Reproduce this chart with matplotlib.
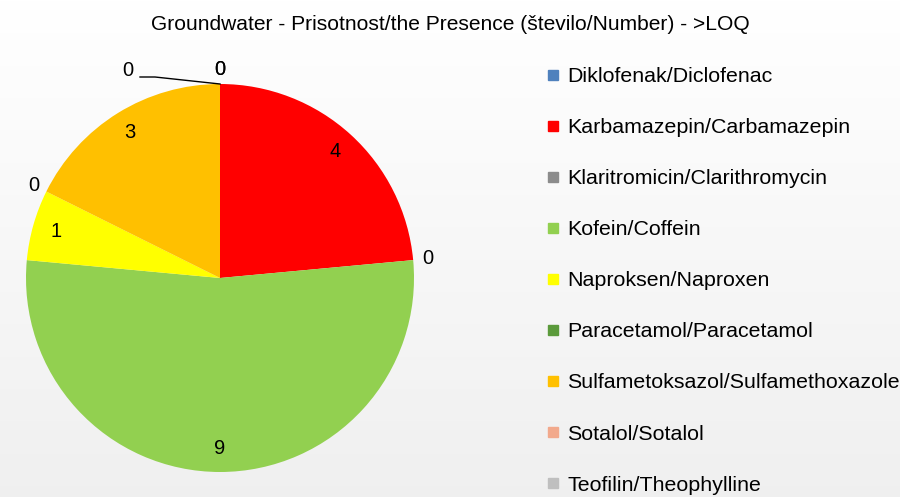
import numpy as np
import matplotlib
matplotlib.use("Agg")
import matplotlib.pyplot as plt
from matplotlib.lines import Line2D

plt.rcParams['font.family'] = ['Liberation Sans', 'DejaVu Sans']

title = "Groundwater - Prisotnost/the Presence (število/Number) - >LOQ"
names = ["Diklofenak/Diclofenac", "Karbamazepin/Carbamazepin",
         "Klaritromicin/Clarithromycin", "Kofein/Coffein",
         "Naproksen/Naproxen", "Paracetamol/Paracetamol",
         "Sulfametoksazol/Sulfamethoxazole", "Sotalol/Sotalol",
         "Teofilin/Theophylline"]
counts = [0, 4, 0, 9, 1, 0, 3, 0, 0]
colors = ["#4F81BD", "#FF0000", "#8C8C8C", "#92D050", "#FFFF00",
          "#5B9A3B", "#FFC000", "#F2A98C", "#BFBFBF"]

W, H = 900, 497
fig = plt.figure(figsize=(W / 100, H / 100), dpi=100)

# soft white -> grey background
bg = fig.add_axes([0, 0, 1, 1], zorder=-10)
grad = np.linspace(1.0, 0.94, 256).reshape(-1, 1)
bg.imshow(np.dstack([grad, grad, grad]), aspect='auto', extent=[0, 1, 0, 1])
bg.axis('off')

# pixel-unit axes so the pie sits where it does in the original
ax = fig.add_axes([0, 0, 1, 1])
ax.patch.set_alpha(0)

cx, cy, r = 220, H - 278, 194
wedges, _ = ax.pie(counts, colors=colors, startangle=90, counterclock=False,
                   center=(cx, cy), radius=r, frame=True)
ax.set_xlim(0, W)
ax.set_ylim(0, H)
ax.axis('off')

for i, (w, v) in enumerate(zip(wedges, counts)):
    mid = np.deg2rad((w.theta1 + w.theta2) / 2)
    if v > 0:
        d = 0.88
    else:
        d = 1.075
    x = cx + d * r * np.cos(mid)
    y = cy + d * r * np.sin(mid)
    if i == len(counts) - 1:
        # last zero label pushed aside with a leader line
        ax.text(128, H - 70, str(v), ha='center', va='center', fontsize=14.5)
        ax.plot([140, 155, cx], [H - 77, H - 77, cy + r], color='black', lw=1)
        continue
    ax.text(x, y, str(v), ha='center', va='center', fontsize=14.5)

fig.text(0.5, 1 - 24 / H, title, ha='center', va='center', fontsize=15.1)

handles = [Line2D([], [], marker='s', linestyle='none', markersize=7.5,
                  markerfacecolor=c, markeredgecolor=c) for c in colors]
fig.legend(handles, names, loc='upper left', bbox_to_anchor=(548 / W, 1 - 67 / H),
           frameon=False, fontsize=15.4, labelspacing=1.5, handlelength=0.5,
           handletextpad=0.4, borderpad=0, borderaxespad=0)

fig.savefig("out.png", dpi=100)
